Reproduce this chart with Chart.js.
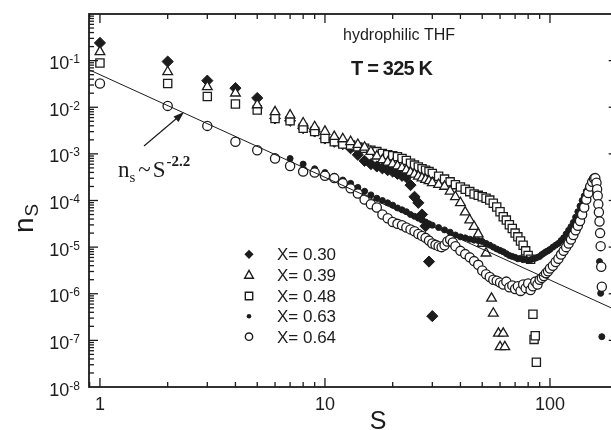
<!DOCTYPE html>
<html>
<head>
<meta charset="utf-8">
<script src="https://cdn.jsdelivr.net/npm/chart.js@4.4.1/dist/chart.umd.min.js"></script>
<style>
  html, body { margin: 0; padding: 0; background: #fff; overflow: hidden; }
  #wrap { width: 640px; height: 430px; }
</style>
</head>
<body>
<div id="wrap"><canvas id="clusters" width="640" height="430"></canvas></div>
<script>
// cluster size distribution n_S vs S, hydrophilic THF at 325 K
const s30 = [1,2,3,4,5,6,7,8,9,10,11,12,13,14,15,16,17,18,19,20,21,22,23,24,25,26,27,28,29,30];
const n30 = [2.40e-1,9.55e-2,3.72e-2,2.57e-2,1.58e-2,5.75e-3,5.13e-3,3.55e-3,3.02e-3,2.14e-3,
  1.82e-3,1.62e-3,1.32e-3,9.55e-4,7.08e-4,6.03e-4,5.37e-4,4.90e-4,4.47e-4,4.17e-4,
  3.72e-4,3.39e-4,3.16e-4,2.14e-4,1.20e-4,8.91e-5,5.01e-5,2.82e-5,4.90e-6,3.31e-7];

const s39 = [1,2,3,4,5,6,7,8,9,10,11,12,13,14,15,16,17,18,19,20,21,22,23,24,25,26,27,28,29,30,
  32,34,36,38,40,42,44,46,48,50,52,55,56,59,60,62,63];
const n39 = [1.55e-1,5.75e-2,2.75e-2,2.00e-2,1.12e-2,7.94e-3,6.76e-3,4.57e-3,3.80e-3,3.02e-3,
  2.34e-3,2.09e-3,1.82e-3,1.58e-3,1.38e-3,1.12e-3,8.91e-4,7.41e-4,6.61e-4,6.03e-4,
  5.50e-4,5.01e-4,4.47e-4,3.98e-4,3.63e-4,3.31e-4,3.02e-4,2.82e-4,2.63e-4,2.40e-4,
  2.19e-4,2.00e-4,1.58e-4,1.20e-4,8.91e-5,5.62e-5,3.80e-5,2.75e-5,1.91e-5,1.20e-5,7.41e-6,
  7.94e-7,3.80e-7,1.41e-7,7.24e-8,1.41e-7,7.24e-8];

const s48 = [1,2,3,4,5,6,7,8,9,10,11,12,13,14,15,16,17,18,19,20,21,22,23,24,25,26,27,28,29,30,
  32,34,36,38,40,42,44,46,48,50,52,54,56,58,60,62,64,66,68,70,72,74,76,78,80,82,84,85,86,87];
const n48 = [8.91e-2,3.24e-2,1.70e-2,1.17e-2,8.71e-3,5.75e-3,5.13e-3,3.55e-3,3.02e-3,2.14e-3,
  1.82e-3,1.62e-3,1.55e-3,1.41e-3,1.32e-3,1.20e-3,1.12e-3,1.02e-3,9.55e-4,9.12e-4,
  8.71e-4,7.94e-4,7.24e-4,6.31e-4,5.75e-4,5.25e-4,4.79e-4,4.47e-4,4.17e-4,3.80e-4,
  3.31e-4,2.88e-4,2.51e-4,2.19e-4,1.95e-4,1.74e-4,1.55e-4,1.38e-4,1.29e-4,1.20e-4,
  1.12e-4,1.02e-4,8.71e-5,7.24e-5,5.75e-5,4.47e-5,3.80e-5,3.02e-5,2.51e-5,2.00e-5,
  1.66e-5,1.35e-5,1.10e-5,8.32e-6,6.61e-6,5.50e-6,3.63e-7,1.05e-7,1.26e-7,3.39e-8];

const s63 = [1,2,3,4,5,6,7,8,9,10,11,12,13,14,15,16,17,18,19,20,21,22,23,24,25,26,27,28,29,30,
  32,34,36,38,40,42,44,46,48,50,52,54,56,58,60,62,64,66,68,70,72,74,76,78,80,82,84,86,88,90,
  92,94,96,98,100,103,106,109,112,115,118,121,124,127,130,133,136,139,142,145,148,151,154,157,
  160,162,164,166,168,170];
const n63 = [3.24e-2,1.07e-2,3.98e-3,1.91e-3,1.26e-3,8.71e-4,7.94e-4,6.03e-4,4.79e-4,3.98e-4,
  3.31e-4,2.75e-4,2.34e-4,1.91e-4,1.58e-4,1.32e-4,1.12e-4,1.00e-4,8.91e-5,7.94e-5,
  6.92e-5,6.31e-5,5.75e-5,5.01e-5,4.57e-5,4.17e-5,3.80e-5,3.47e-5,3.16e-5,2.95e-5,
  2.63e-5,2.34e-5,2.09e-5,1.82e-5,1.66e-5,1.58e-5,1.48e-5,1.41e-5,1.38e-5,1.32e-5,
  1.20e-5,1.10e-5,1.00e-5,9.12e-6,8.51e-6,7.94e-6,7.24e-6,6.61e-6,6.31e-6,6.03e-6,
  5.62e-6,5.75e-6,5.37e-6,5.50e-6,5.25e-6,5.37e-6,5.62e-6,5.75e-6,6.03e-6,6.31e-6,
  6.92e-6,7.41e-6,7.94e-6,8.32e-6,8.91e-6,1.00e-5,1.10e-5,1.20e-5,1.38e-5,1.58e-5,
  1.91e-5,2.29e-5,2.75e-5,3.39e-5,4.37e-5,5.75e-5,7.59e-5,1.00e-4,1.26e-4,1.58e-4,
  1.91e-4,2.29e-4,2.69e-4,3.02e-4,2.75e-4,1.58e-4,6.31e-5,4.90e-6,1.02e-6,1.20e-7];

const s64 = [1,2,3,4,5,6,7,8,9,10,11,12,13,14,15,16,17,18,19,20,21,22,23,24,25,26,27,28,29,30,
  31,32,33,34,35,36,37,38,40,42,44,46,48,50,52,54,56,58,60,62,64,66,68,70,72,74,76,78,80,82,
  84,86,88,90,92,94,96,98,100,103,106,109,112,115,118,121,124,127,130,133,136,139,142,145,148,
  151,154,157,159,161,162,163,164,165,166,167,168,169,170];
const n64 = [3.24e-2,1.07e-2,3.98e-3,1.82e-3,1.20e-3,7.94e-4,5.50e-4,4.17e-4,3.98e-4,3.39e-4,
  3.02e-4,2.34e-4,1.82e-4,1.41e-4,1.05e-4,8.32e-5,7.08e-5,5.01e-5,4.17e-5,3.47e-5,
  3.16e-5,2.95e-5,2.63e-5,2.40e-5,2.19e-5,1.91e-5,1.74e-5,1.58e-5,1.38e-5,1.20e-5,
  1.12e-5,1.05e-5,1.00e-5,1.10e-5,1.32e-5,1.45e-5,1.26e-5,1.05e-5,8.32e-6,7.08e-6,
  6.03e-6,5.01e-6,4.17e-6,3.16e-6,2.63e-6,2.29e-6,2.00e-6,1.91e-6,1.74e-6,1.58e-6,
  1.82e-6,1.38e-6,1.51e-6,1.26e-6,1.45e-6,1.15e-6,1.58e-6,1.32e-6,1.66e-6,1.20e-6,
  1.45e-6,1.82e-6,1.58e-6,2.00e-6,2.19e-6,2.40e-6,2.75e-6,3.02e-6,3.47e-6,3.98e-6,
  4.79e-6,5.62e-6,6.92e-6,8.32e-6,1.00e-5,1.20e-5,1.45e-5,1.82e-5,2.29e-5,2.88e-5,
  3.63e-5,5.01e-5,7.08e-5,1.05e-4,1.45e-4,2.00e-4,2.51e-4,2.95e-4,3.02e-4,2.40e-4,
  1.74e-4,1.26e-4,8.32e-5,5.62e-5,3.55e-5,2.00e-5,1.05e-5,3.80e-6,1.41e-6];

// n_s ~ S^-2.2 guide line, end points
const fitS = [0.894, 200];
const fitN = [6.39e-2, 4.3e-7];

const legendLabels = ['X= 0.30', 'X= 0.39', 'X= 0.48', 'X= 0.63', 'X= 0.64'];
const legendMarks = ['diamond', 'triangle', 'square', 'dot', 'circle'];
const xTickLabels = ['1', '10', '100'];
const xMajor = [1, 10, 100];
const yExponents = ['-1', '-2', '-3', '-4', '-5', '-6', '-7', '-8'];

const xMin = 0.894, xMax = 200;
const yMin = 1e-8, yMax = 1;

const INK = '#1c1c1c';
const SANS = '"Liberation Sans", Arial, sans-serif';
const SERIF = '"Liberation Serif", "Times New Roman", serif';

function pts(xs, ys) {
  return xs.map((v, i) => ({ x: v, y: ys[i] }));
}

function marker(ctx, kind, x, y, r) {
  ctx.beginPath();
  if (kind === 'diamond') {
    ctx.moveTo(x, y - r); ctx.lineTo(x + r, y); ctx.lineTo(x, y + r); ctx.lineTo(x - r, y);
    ctx.closePath(); ctx.fillStyle = INK; ctx.fill();
  } else if (kind === 'triangle') {
    ctx.moveTo(x, y - r); ctx.lineTo(x + r * 0.95, y + r * 0.7); ctx.lineTo(x - r * 0.95, y + r * 0.7);
    ctx.closePath(); ctx.stroke();
  } else if (kind === 'square') {
    ctx.rect(x - r * 0.8, y - r * 0.8, r * 1.6, r * 1.6); ctx.stroke();
  } else if (kind === 'dot') {
    ctx.arc(x, y, r * 0.5, 0, Math.PI * 2); ctx.fillStyle = INK; ctx.fill();
  } else {
    ctx.arc(x, y, r * 0.8, 0, Math.PI * 2); ctx.stroke();
  }
}

const frame = {
  id: 'frame',
  afterDraw(chart) {
    const { ctx, chartArea: a, scales: { x, y } } = chart;
    ctx.save();
    ctx.strokeStyle = INK;
    ctx.fillStyle = INK;

    // box
    ctx.lineWidth = 1.8;
    ctx.strokeRect(a.left, a.top, a.right - a.left, a.bottom - a.top);

    // inward ticks, all four sides
    ctx.lineWidth = 1.3;
    const seg = (x1, y1, x2, y2) => { ctx.beginPath(); ctx.moveTo(x1, y1); ctx.lineTo(x2, y2); ctx.stroke(); };
    for (let d = -1; d <= 2; d++) {
      for (let m = 1; m <= 9; m++) {
        const v = m * Math.pow(10, d);
        if (v <= xMin || v >= xMax) continue;
        const px = x.getPixelForValue(v);
        const len = m === 1 ? 9 : 5;
        seg(px, a.bottom, px, a.bottom - len);
        seg(px, a.top, px, a.top + len);
      }
    }
    for (let d = -8; d <= 0; d++) {
      for (let m = 1; m <= 9; m++) {
        const v = m * Math.pow(10, d);
        if (v <= yMin || v >= yMax) continue;
        const py = y.getPixelForValue(v);
        const len = m === 1 ? 9 : 5;
        seg(a.left, py, a.left + len, py);
        seg(a.right, py, a.right - len, py);
      }
    }

    // x tick labels
    ctx.font = '18px ' + SANS;
    ctx.textAlign = 'center';
    ctx.textBaseline = 'alphabetic';
    xMajor.forEach((v, i) => ctx.fillText(xTickLabels[i], x.getPixelForValue(v), 410));

    // y tick labels 10^-n
    ctx.textAlign = 'left';
    yExponents.forEach(e => {
      const py = y.getPixelForValue(Math.pow(10, Number(e)));
      ctx.font = '12px ' + SANS;
      const ew = ctx.measureText(e).width;
      ctx.font = '18px ' + SANS;
      const bw = ctx.measureText('10').width;
      const right = a.left - 9;
      ctx.fillText('10', right - ew - bw, py + 8.5);
      ctx.font = '12px ' + SANS;
      ctx.fillText(e, right - ew, py + 2.5);
    });

    // axis titles
    ctx.font = '25px ' + SANS;
    ctx.textAlign = 'center';
    ctx.fillText('S', 378, 429);

    ctx.save();
    ctx.translate(33, 233);
    ctx.rotate(-Math.PI / 2);
    ctx.textAlign = 'left';
    ctx.font = '28px ' + SANS;
    ctx.fillText('n', 0, 0);
    const nw = ctx.measureText('n').width;
    ctx.font = '19px ' + SANS;
    ctx.fillText('S', nw + 1, 5);
    ctx.restore();

    // header texts
    ctx.textAlign = 'left';
    ctx.font = '16px ' + SANS;
    ctx.fillText('hydrophilic THF', 343, 40);
    ctx.font = 'bold 20px ' + SANS;
    ctx.letterSpacing = '-0.8px';
    ctx.fillText('T = 325 K', 351, 75);
    ctx.letterSpacing = '0px';

    // legend
    ctx.lineWidth = 1.4;
    ctx.font = '17px ' + SANS;
    const rows = [254.3, 275, 296, 316.3, 336.7];
    legendLabels.forEach((lab, i) => {
      marker(ctx, legendMarks[i], 249, rows[i], 4.6);
      ctx.fillStyle = INK;
      ctx.fillText(lab, 277, rows[i] + 6);
    });

    // power-law annotation with arrow
    ctx.lineWidth = 1.2;
    seg(144, 146, 180, 115.5);
    ctx.beginPath();
    ctx.moveTo(184, 112);
    ctx.lineTo(173.5, 116.5);
    ctx.lineTo(178.5, 122);
    ctx.closePath();
    ctx.fill();

    let tx = 118;
    ctx.font = '23px ' + SERIF;
    ctx.fillText('n', tx, 177);
    tx += ctx.measureText('n').width;
    ctx.font = '15px ' + SERIF;
    ctx.fillText('s', tx, 182);
    tx += ctx.measureText('s').width + 3;
    ctx.font = '23px ' + SERIF;
    ctx.fillText('~', tx, 177);
    tx += ctx.measureText('~').width + 2;
    ctx.fillText('S', tx, 177);
    tx += ctx.measureText('S').width + 1;
    ctx.font = 'bold 15px ' + SERIF;
    ctx.fillText('-2.2', tx, 166);

    ctx.restore();
  }
};

const open = { backgroundColor: '#fff', borderColor: INK, borderWidth: 1.3 };
const filled = { backgroundColor: INK, borderColor: INK, borderWidth: 1 };

new Chart(document.getElementById('clusters').getContext('2d'), {
  type: 'scatter',
  data: {
    datasets: [
      { label: 'fit', type: 'line', data: pts(fitS, fitN), showLine: true, borderColor: INK,
        borderWidth: 1, pointRadius: 0, fill: false, order: 0 },
      { label: legendLabels[4], data: pts(s64, n64), pointStyle: 'circle', pointRadius: 4.6, ...open, order: 1 },
      { label: legendLabels[3], data: pts(s63, n63), pointStyle: 'circle', pointRadius: 3, ...filled, order: 2 },
      { label: legendLabels[1], data: pts(s39, n39), pointStyle: 'triangle', pointRadius: 5.6, ...open, order: 3 },
      { label: legendLabels[2], data: pts(s48, n48), pointStyle: 'rect', pointRadius: 5.8, ...open, order: 4 },
      { label: legendLabels[0], data: pts(s30, n30), pointStyle: 'rectRot', pointRadius: 5.6, ...filled, order: 5 }
    ]
  },
  options: {
    responsive: false,
    animation: false,
    events: [],
    layout: { padding: { left: 89, right: 22.3, top: 14, bottom: 43 } },
    scales: {
      x: { type: 'logarithmic', min: xMin, max: xMax, display: false },
      y: { type: 'logarithmic', min: yMin, max: yMax, display: false }
    },
    plugins: { legend: { display: false }, tooltip: { enabled: false } }
  },
  plugins: [frame]
});
</script>
</body>
</html>
